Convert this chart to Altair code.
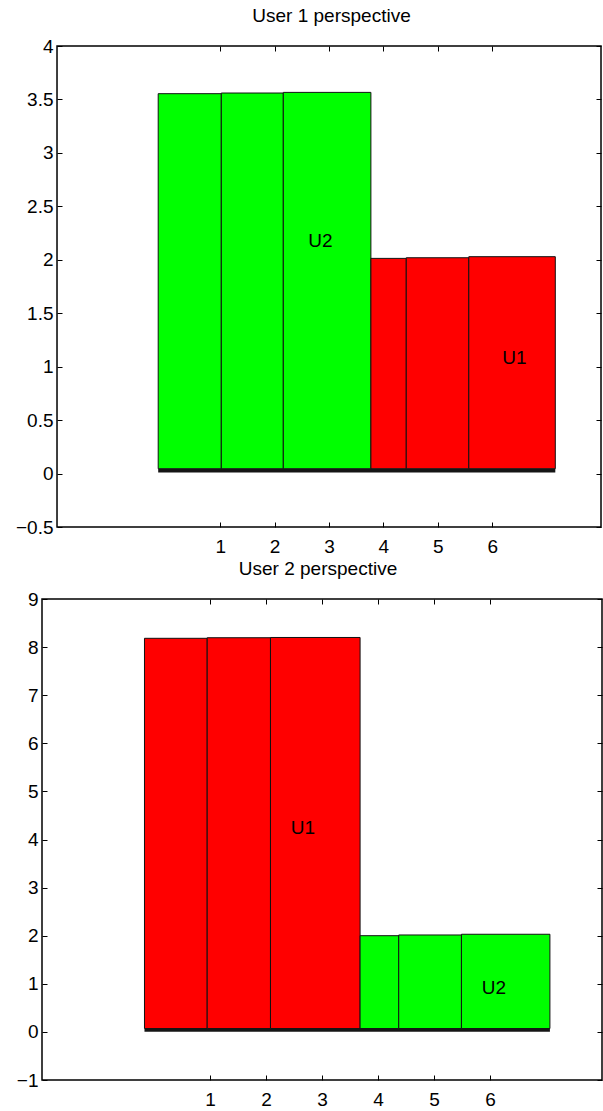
import altair as alt
import pandas as pd

FONT = "Liberation Sans"

# ---------------- Panel 1: User 1 perspective ----------------
p1_title = "User 1 perspective"
p1_edges = [-0.14, 1.02, 2.16, 3.77, 4.42, 5.57, 7.16]
p1_heights = [3.554, 3.560, 3.566, 2.013, 2.019, 2.029]
p1_users = ["U2", "U2", "U2", "U1", "U1", "U1"]
p1_base = 0.045
p1_strip_low = 0.01
p1_label_text = ["U2", "U1"]
p1_label_x = [2.84, 6.41]
p1_label_y = [2.18, 1.08]
p1_frame_x = [-2, 8]
p1_ydomain = [-0.5, 4]
p1_yticks = [-0.5, 0, 0.5, 1, 1.5, 2, 2.5, 3, 3.5, 4]

# ---------------- Panel 2: User 2 perspective ----------------
p2_title = "User 2 perspective"
p2_edges = [-0.17, 0.95, 2.08, 3.68, 4.37, 5.49, 7.07]
p2_heights = [8.183, 8.195, 8.200, 2.000, 2.015, 2.030]
p2_users = ["U1", "U1", "U1", "U2", "U2", "U2"]
p2_base = 0.07
p2_strip_low = 0.005
p2_label_text = ["U1", "U2"]
p2_label_x = [2.66, 6.07]
p2_label_y = [4.24, 0.92]
p2_frame_x = [-2, 8]
p2_ydomain = [-1, 9]
p2_yticks = [-1, 0, 1, 2, 3, 4, 5, 6, 7, 8, 9]

xticks = [1, 2, 3, 4, 5, 6]
user_domain = ["U1", "U2"]
user_colors = ["#ff0000", "#00ff00"]


def panel(title, edges, heights, users, base, strip_low, ltext, lx, ly,
          frame_x, ydom, yticks, width, height, xdom_view, left_offset, title_dx):
    bars = pd.DataFrame({
        "x0": edges[:-1],
        "x1": edges[1:],
        "y0": [base] * len(heights),
        "y1": heights,
        "user": users,
    })
    strip = pd.DataFrame({"x0": [edges[0]], "x1": [edges[-1]],
                          "y0": [strip_low], "y1": [base]})
    labels = pd.DataFrame({"t": ltext, "x": lx, "y": ly})
    frame = pd.DataFrame({"x0": [frame_x[0]], "x1": [frame_x[1]],
                          "y0": [ydom[0]], "y1": [ydom[1]]})

    xs = alt.Scale(domain=xdom_view, nice=False, zero=False)
    ys = alt.Scale(domain=ydom, nice=False, zero=False)

    common = dict(grid=False, domain=False, tickSize=5,
                  tickColor="black", tickWidth=1, minExtent=0, maxExtent=200,
                  title=None)

    bar_layer = alt.Chart(bars).mark_rect(stroke="#111111", strokeWidth=1).encode(
        x=alt.X("x0:Q", scale=xs,
                axis=alt.Axis(orient="bottom", values=xticks, format="~g",
                              labelPadding=10, offset=-5, **common)),
        x2="x1:Q",
        y=alt.Y("y0:Q", scale=ys,
                axis=alt.Axis(orient="left", values=yticks, format="~g",
                              labelPadding=4, offset=left_offset, **common)),
        y2="y1:Q",
        color=alt.Color("user:N", scale=alt.Scale(domain=user_domain, range=user_colors),
                        legend=None),
    )

    strip_layer = alt.Chart(strip).mark_rect(color="#151515").encode(
        x=alt.X("x0:Q", scale=xs,
                axis=alt.Axis(orient="top", values=xticks, labels=False, offset=-5,
                              **common)),
        x2="x1:Q",
        y=alt.Y("y0:Q", scale=ys,
                axis=alt.Axis(orient="right", values=yticks, labels=False, offset=-5,
                              **common)),
        y2="y1:Q",
    )

    text_layer = alt.Chart(labels).mark_text(
        font=FONT, fontSize=19, color="black", align="center", baseline="middle"
    ).encode(
        x=alt.X("x:Q", scale=xs, axis=None),
        y=alt.Y("y:Q", scale=ys, axis=None),
        text="t:N",
    )

    frame_layer = alt.Chart(frame).mark_rect(
        filled=False, stroke="black", strokeWidth=1.5
    ).encode(
        x=alt.X("x0:Q", scale=xs, axis=None),
        x2="x1:Q",
        y=alt.Y("y0:Q", scale=ys, axis=None),
        y2="y1:Q",
    )

    return alt.layer(bar_layer, strip_layer, text_layer, frame_layer).resolve_axis(
        x="independent", y="independent"
    ).properties(
        width=width, height=height,
        title=alt.TitleParams(title, font=FONT, fontSize=19, fontWeight="normal",
                              color="black", anchor="middle", frame="group",
                              offset=11.5, dx=title_dx),
    )


top = panel(p1_title, p1_edges, p1_heights, p1_users, p1_base, p1_strip_low,
            p1_label_text, p1_label_x, p1_label_y, p1_frame_x, p1_ydomain, p1_yticks,
            559, 481, [-2.276, 8], -20, 10)
bottom = panel(p2_title, p2_edges, p2_heights, p2_users, p2_base, p2_strip_low,
               p2_label_text, p2_label_x, p2_label_y, p2_frame_x, p2_ydomain, p2_yticks,
               560, 481, [-2, 8], -5, -4)

chart = alt.vconcat(top, bottom, spacing=3).properties(
    padding={"left": 15, "top": 6, "right": 0, "bottom": 0},
    background="white",
).configure_view(
    stroke="transparent", strokeWidth=0
).configure_axis(
    labelFont=FONT, labelFontSize=19, labelColor="black"
)

chart.save("out.html", embed_options={"renderer": "svg", "actions": False})
